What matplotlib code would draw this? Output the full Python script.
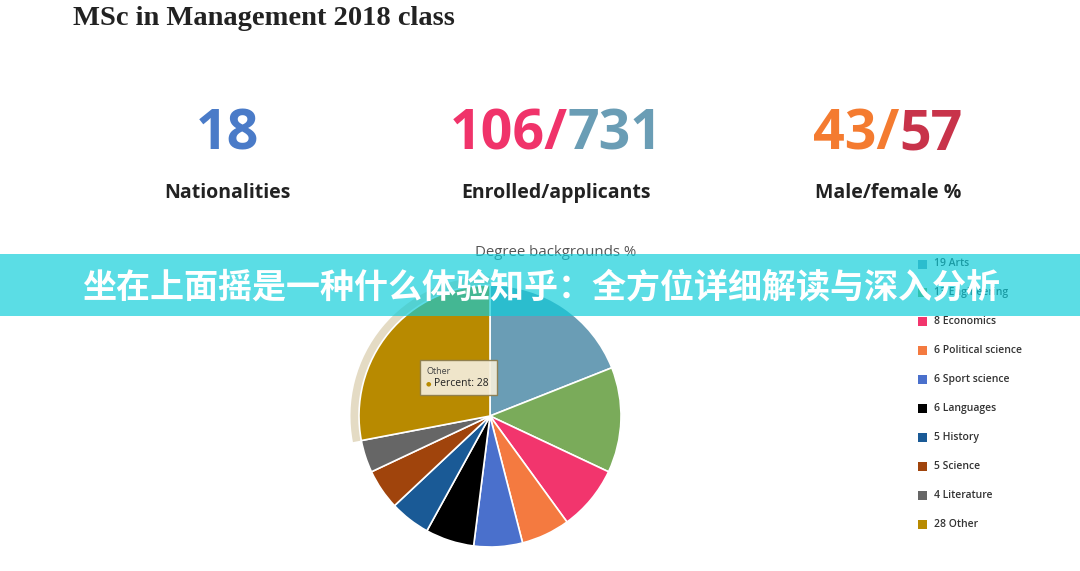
import matplotlib
matplotlib.use("Agg")
import matplotlib.pyplot as plt
from matplotlib.patches import Rectangle, Wedge

# data
title = "MSc in Management 2018 class"
pie_title = "Degree backgrounds %"
categories = ["Arts", "Engineering", "Economics", "Political science",
              "Sport science", "Languages", "History", "Science",
              "Literature", "Other"]
percents = [19, 13, 8, 6, 6, 6, 5, 5, 4, 28]
colors = ["#6a9db5", "#7aab5a", "#f2356d", "#f47a40", "#4a70cc",
          "#000000", "#1a5a96", "#a0440c", "#666666", "#b88a00"]

# key figures: (left part, right part, label)
stat_left = ["18", "106/", "43/"]
stat_right = ["", "731", "57"]
stat_labels = ["Nationalities", "Enrolled/applicants", "Male/female %"]
stat_left_colors = ["#4a7bc8", "#f0336a", "#f47b30"]
stat_right_colors = ["#4a7bc8", "#6a9db5", "#c8334a"]
stat_x = [227, 556, 888]

banner_text = "坐在上面摇是一种什么体验知乎：全方位详细解读与深入分析"

W, H = 1080, 571
fig = plt.figure(figsize=(W / 100, H / 100), dpi=100)
fig.patch.set_facecolor("white")

# pie axes, centre (490, 416) px, radius 131 px
cx, cy, r, half = 490, 416, 131, 145
pax = fig.add_axes([(cx - half) / W, (H - cy - half) / H, 2 * half / W, 2 * half / H])

# hover halo on the "Other" slice
start = 90 - 360 * sum(percents[:-1]) / 100
pax.add_patch(Wedge((0, 0), 1.065, 90, start + 360, width=0.07,
                    facecolor="#e4dbc4", edgecolor="none", zorder=0))
pax.pie(percents, colors=colors, startangle=90, counterclock=False, radius=1,
        wedgeprops=dict(edgecolor="white", linewidth=1.2))
pax.set_xlim(-half / r, half / r)
pax.set_ylim(-half / r, half / r)
pax.set_aspect("equal")
pax.axis("off")

# tooltip
def px(x, y):
    return (x - cx) / r, (cy - y) / r

x0, y0 = px(420, 395)
x1, y1 = px(497, 360)
pax.add_patch(Rectangle((x0, y0), x1 - x0, y1 - y0, facecolor="#f4eedc",
                        edgecolor="#8c7c4c", linewidth=1, alpha=0.92, zorder=5))
tx, ty = px(426, 372)
pax.text(tx, ty, "Other", fontsize=6.5, color="#444444", family="Open Sans",
         va="center", ha="left", zorder=6)
tx, ty = px(426, 384)
pax.text(tx, ty, "●", fontsize=4.5, color=colors[-1], va="center", ha="left", zorder=6)
tx, ty = px(434, 384)
pax.text(tx, ty, "Percent: 28", fontsize=7.5, color="#222222", family="Open Sans",
         va="center", ha="left", zorder=6)

# overlay axes in pixel coordinates
ax = fig.add_axes([0, 0, 1, 1], zorder=5)
ax.set_xlim(0, W)
ax.set_ylim(H, 0)
ax.axis("off")
ax.patch.set_alpha(0)

ax.text(73, 25, title, fontsize=20.5, fontweight="bold", family="Liberation Serif",
        color="#222222", ha="left", va="baseline")

ax.text(556, 253, pie_title, fontsize=10.8, color="#555555", family="Open Sans",
        ha="center", va="center")

# key figures, two colours side by side
renderer = fig.canvas.get_renderer()
for left, right, lab, lc, rc, x in zip(stat_left, stat_right, stat_labels,
                                      stat_left_colors, stat_right_colors, stat_x):
    tl = ax.text(0, 150, left, fontsize=40, fontweight="bold", family="Open Sans",
                 color=lc, ha="left", va="baseline")
    tr = ax.text(0, 150, right, fontsize=40, fontweight="bold", family="Open Sans",
                 color=rc, ha="left", va="baseline")
    wl = tl.get_window_extent(renderer).width if left else 0
    wr = tr.get_window_extent(renderer).width if right else 0
    xs = x - (wl + wr) / 2
    tl.set_x(xs)
    tr.set_x(xs + wl)
    ax.text(x, 198, lab, fontsize=14, fontweight="bold", family="Open Sans",
            color="#222222", ha="center", va="baseline")

# legend
for i, (c, p, col) in enumerate(zip(categories, percents, colors)):
    y = 264 + i * 28.9
    ax.add_patch(Rectangle((918, y - 4.5), 9, 9, facecolor=col, edgecolor="none", zorder=2))
    ax.text(934, y, f"{p} {c}", fontsize=7.5, fontweight="semibold", family="Open Sans",
            color="#333333", ha="left", va="center", zorder=2)

# banner over the picture
ax.add_patch(Rectangle((0, 254), W, 62, facecolor="#0ecdda", alpha=0.68,
                       edgecolor="none", zorder=10))
ax.text(541, 287, banner_text, fontsize=24.5, fontweight="heavy",
        family=["Noto Sans CJK SC", "DejaVu Sans"], color="white",
        ha="center", va="center", zorder=11)

fig.savefig("out.png", dpi=100)
